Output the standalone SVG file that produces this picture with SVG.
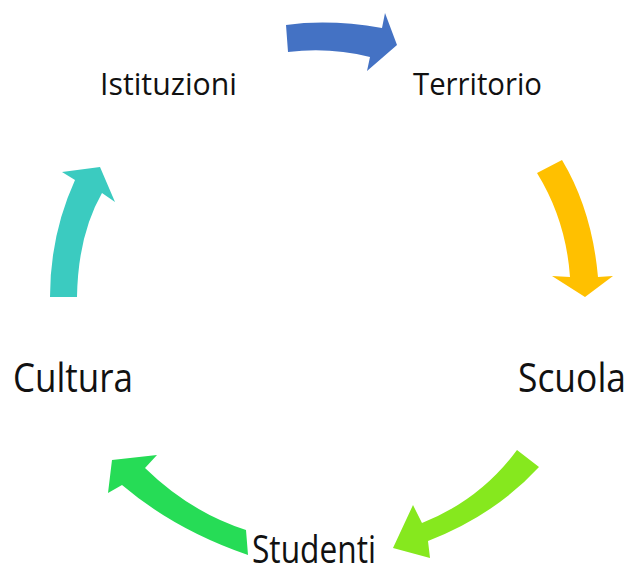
<svg xmlns="http://www.w3.org/2000/svg" width="632" height="574" viewBox="0 0 632 574">
<style>
.lbl{font-family:"Open Sans","Noto Sans",sans-serif;fill:#111;}
.s{font-size:31px;}
.b{font-size:40px;}
.c{font-size:38px;}
</style>
<rect width="632" height="574" fill="#fff"/>
<g id="connectors">
<path id="a-ist-ter" d="M286,25 Q330,19 382,28 L385,13 L397,45 L367,71 L370,57 Q330,47 288,52 Z" fill="#4472C4"/>
<path id="a-ter-scu" d="M537,173 L562,160 Q592,210 598,277 L613,276 L585,297 L552,276 L570,277 Q566,220 537,173 Z" fill="#FFC000"/>
<path id="a-scu-stu" d="M517,450 L539,467 Q495,515 428,541 L430,558 L393,548 L413,505 L422,523 Q480,500 517,450 Z" fill="#86E81E"/>
<path id="a-stu-cul" d="M246,530 L248,555 Q175,530 122,485 L108,493 L112,460 L157,455 L145,468 Q190,512 246,530 Z" fill="#26DC56"/>
<path id="a-cul-ist" d="M50,297 L77,297 Q78,235 102,193 L115,202 L100,167 L62,172 L75,180 Q50,235 50,297 Z" fill="#3BCBC0"/>
</g>
<g id="istituzioni"><text class="lbl s" x="100" y="95" textLength="137" lengthAdjust="spacingAndGlyphs">Istituzioni</text></g>
<g id="territorio"><text class="lbl s" x="413" y="95" textLength="129" lengthAdjust="spacingAndGlyphs">Territorio</text></g>
<g id="scuola"><text class="lbl" x="0" y="0" font-size="35" transform="translate(518,392) scale(1,1.14)" textLength="108" lengthAdjust="spacingAndGlyphs">Scuola</text></g>
<g id="studenti"><text class="lbl c" x="252" y="563" textLength="124" lengthAdjust="spacingAndGlyphs">Studenti</text></g>
<g id="cultura"><text class="lbl b" x="13" y="392" textLength="120" lengthAdjust="spacingAndGlyphs">Cultura</text></g>
</svg>
